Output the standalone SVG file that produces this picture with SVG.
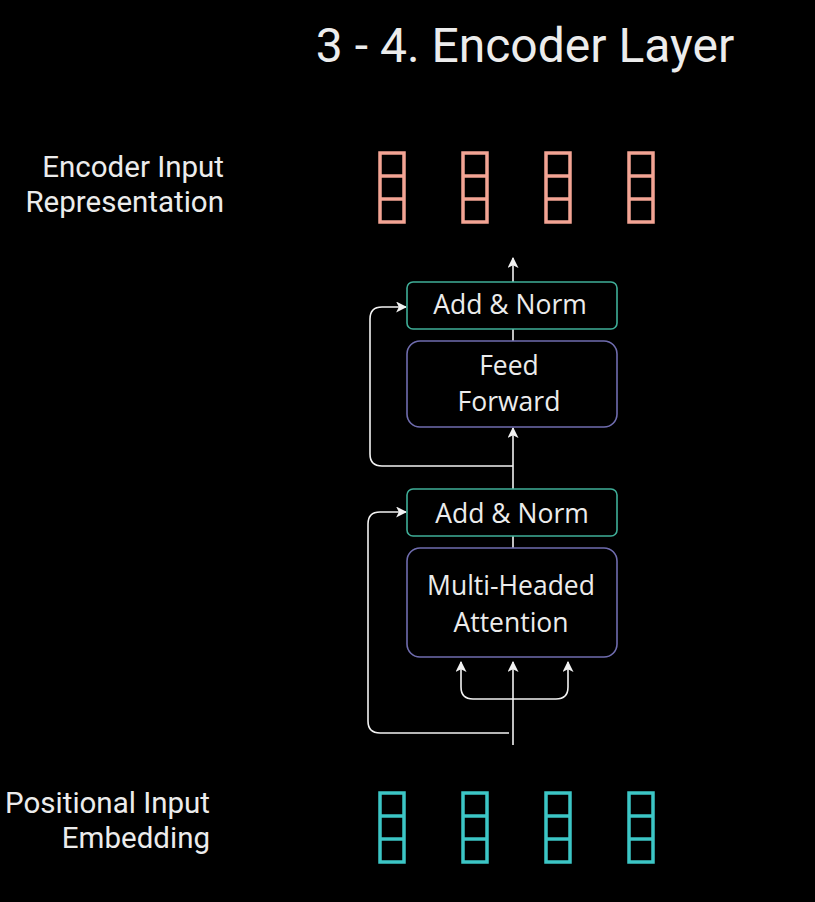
<svg xmlns="http://www.w3.org/2000/svg" width="815" height="902" viewBox="0 0 815 902">
<style>
.t{font-family:Roboto,"Liberation Sans",sans-serif;fill:#ececec}
.b{font-family:"Open Sans","Noto Sans",sans-serif;fill:#ececec;font-size:26.5px;text-anchor:middle}
.an{fill:#000;stroke:#3fae98;stroke-width:1.6}
.blk{fill:#000;stroke:#6f6cae;stroke-width:1.6}
.vo rect{fill:none;stroke:#f3a494;stroke-width:3.5}
.vo line{stroke:#f3a494;stroke-width:3.5}
.vi rect{fill:none;stroke:#3cc6c6;stroke-width:3.5}
.vi line{stroke:#3cc6c6;stroke-width:3.5}
.c{fill:none;stroke:#f2f2f2;stroke-width:1.6}
</style>
<defs>
<marker id="ah" viewBox="0 0 10 10" refX="9" refY="5" markerWidth="11" markerHeight="11" markerUnits="userSpaceOnUse" orient="auto-start-reverse">
<path d="M0,0 L10,5 L0,10 L2.5,5 Z" fill="#f2f2f2"/>
</marker>
</defs>
<rect width="815" height="902" fill="#000"/>
<text class="t" x="525" y="62" font-size="48" text-anchor="middle">3 - 4. Encoder Layer</text>
<g id="label-out">
<text class="t" x="224" y="177" font-size="29.5" text-anchor="end">Encoder Input</text>
<text class="t" x="224" y="212" font-size="29.5" text-anchor="end">Representation</text>
</g>
<g id="label-in">
<text class="t" x="210" y="813" font-size="29.5" text-anchor="end">Positional Input</text>
<text class="t" x="210" y="848" font-size="29.5" text-anchor="end">Embedding</text>
</g>
<g id="out-vectors" class="vo">
<rect x="380" y="153" width="24" height="69"/><line x1="380" y1="176" x2="404" y2="176"/><line x1="380" y1="199" x2="404" y2="199"/>
<rect x="463" y="153" width="24" height="69"/><line x1="463" y1="176" x2="487" y2="176"/><line x1="463" y1="199" x2="487" y2="199"/>
<rect x="546" y="153" width="24" height="69"/><line x1="546" y1="176" x2="570" y2="176"/><line x1="546" y1="199" x2="570" y2="199"/>
<rect x="629" y="153" width="24" height="69"/><line x1="629" y1="176" x2="653" y2="176"/><line x1="629" y1="199" x2="653" y2="199"/>
</g>
<g id="in-vectors" class="vi">
<rect x="380" y="793" width="24" height="69"/><line x1="380" y1="816" x2="404" y2="816"/><line x1="380" y1="839" x2="404" y2="839"/>
<rect x="463" y="793" width="24" height="69"/><line x1="463" y1="816" x2="487" y2="816"/><line x1="463" y1="839" x2="487" y2="839"/>
<rect x="546" y="793" width="24" height="69"/><line x1="546" y1="816" x2="570" y2="816"/><line x1="546" y1="839" x2="570" y2="839"/>
<rect x="629" y="793" width="24" height="69"/><line x1="629" y1="816" x2="653" y2="816"/><line x1="629" y1="839" x2="653" y2="839"/>
</g>
<g id="connectors">
<line class="c" x1="513" y1="282" x2="513" y2="258" marker-end="url(#ah)"/>
<line class="c" x1="513" y1="329" x2="513" y2="341"/>
<line class="c" x1="513" y1="489" x2="513" y2="428" marker-end="url(#ah)"/>
<path class="c" d="M513,466 H382 Q370,466 370,454 V319 Q370,307 382,307 H406" marker-end="url(#ah)"/>
<line class="c" x1="513" y1="536" x2="513" y2="548"/>
<line class="c" x1="513" y1="745" x2="513" y2="662" marker-end="url(#ah)"/>
<path class="c" d="M461,662 V687 Q461,699 473,699 H556 Q568,699 568,687 V662" marker-start="url(#ah)" marker-end="url(#ah)"/>
<path class="c" d="M509,733 H380 Q368,733 368,721 V524 Q368,512 380,512 H406" marker-end="url(#ah)"/>
</g>
<g id="addnorm2">
<rect class="an" x="407" y="282" width="210" height="47" rx="6"/>
<text class="b" x="510" y="314">Add &amp; Norm</text>
</g>
<g id="feedforward">
<rect class="blk" x="407" y="341" width="210" height="86" rx="13"/>
<text class="b" x="509" y="375">Feed</text>
<text class="b" x="509" y="411">Forward</text>
</g>
<g id="addnorm1">
<rect class="an" x="407" y="489" width="210" height="47" rx="6"/>
<text class="b" x="512" y="523">Add &amp; Norm</text>
</g>
<g id="mha">
<rect class="blk" x="407" y="548" width="210" height="109" rx="13"/>
<text class="b" x="511" y="595">Multi-Headed</text>
<text class="b" x="511" y="632">Attention</text>
</g>
</svg>
